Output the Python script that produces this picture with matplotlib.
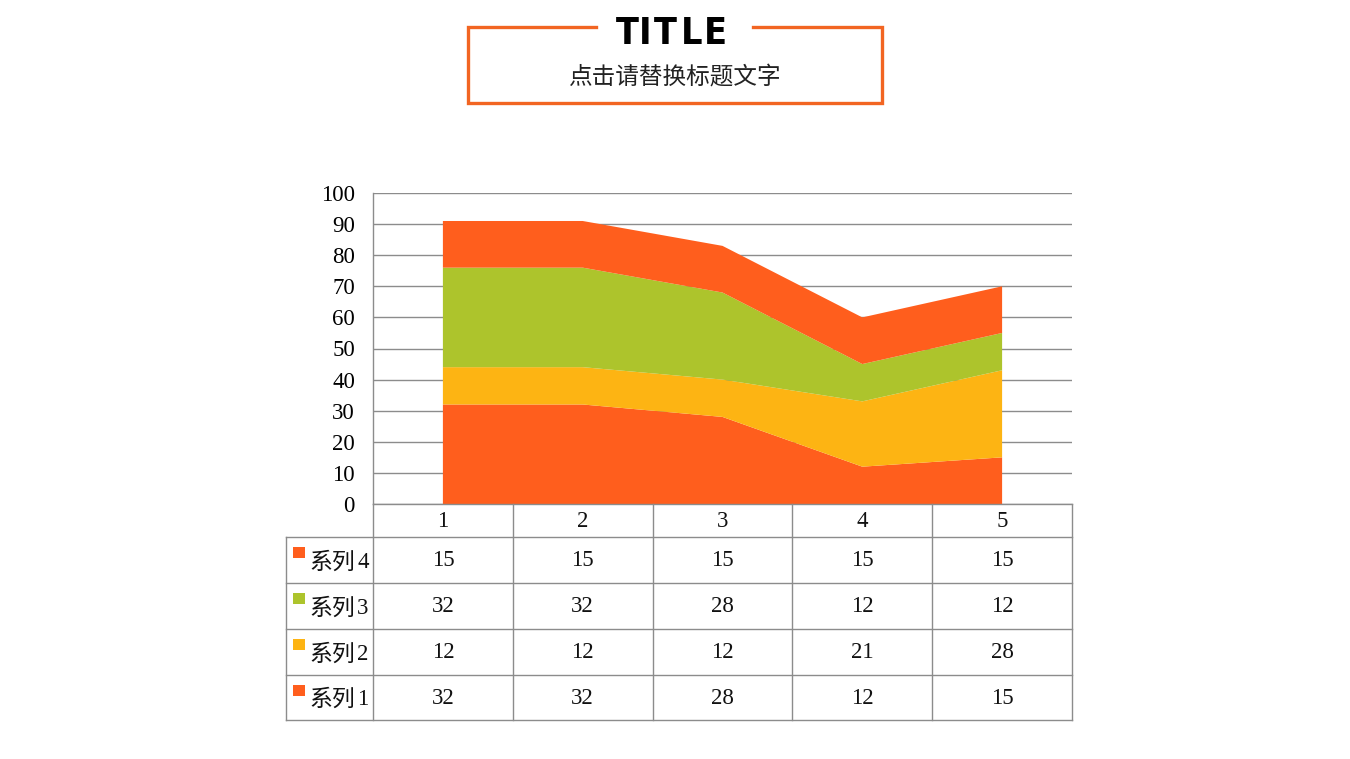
import matplotlib
matplotlib.use("Agg")
import matplotlib.pyplot as plt
from matplotlib.lines import Line2D
from matplotlib.patches import Rectangle
import numpy as np

categories = [1, 2, 3, 4, 5]
series_names = ["系列1", "系列2", "系列3", "系列4"]
s1 = [32, 32, 28, 12, 15]
s2 = [12, 12, 12, 21, 28]
s3 = [32, 32, 28, 12, 12]
s4 = [15, 15, 15, 15, 15]
yticks = [0, 10, 20, 30, 40, 50, 60, 70, 80, 90, 100]
colors = ["#FF5E1D", "#FDB413", "#ADC42C", "#FF5E1D"]
title_text = "TITLE"
subtitle_text = "点击请替换标题文字"

W, H = 1350, 759
fig = plt.figure(figsize=(W / 100, H / 100), dpi=100)
fig.patch.set_facecolor("white")

NUMFS = 16.5

# main plot axes (pixel geometry)
L, R, T, B = 373, 1072, 193, 504
ax = fig.add_axes([L / W, 1 - B / H, (R - L) / W, (B - T) / H])
ax.stackplot(categories, s1, s2, s3, s4, colors=colors, linewidth=0)
ax.set_xlim(0.5, 5.5)
ax.set_ylim(0, 100)
ax.set_yticks(yticks)
ax.set_yticklabels([str(v) for v in yticks], family="Liberation Serif", fontsize=NUMFS)
ax.tick_params(axis="y", length=0, pad=13)
ax.set_xticks([])
ax.yaxis.grid(True, color="#8c8c8c", linewidth=1)
ax.set_axisbelow(True)
for s in ["top", "right", "bottom"]:
    ax.spines[s].set_visible(False)
ax.spines["left"].set_color("#8c8c8c")
ax.spines["left"].set_linewidth(1)
ax.patch.set_alpha(0)

# overlay axes in pixel coordinates for table and title
ov = fig.add_axes([0, 0, 1, 1], zorder=5)
ov.set_xlim(0, W)
ov.set_ylim(H, 0)
ov.axis("off")
ov.patch.set_alpha(0)

fig.canvas.draw()
def data_x_to_px(x):
    disp = ax.transData.transform((x, 0))
    return disp[0] * W / fig.bbox.width

centers = [data_x_to_px(c) for c in categories]
bounds = [data_x_to_px(c - 0.5) for c in categories] + [data_x_to_px(categories[-1] + 0.5)]

gc = "#8c8c8c"
lw = 1
row_y = [504, 537, 583, 629, 675, 720]
label_left = 286

def hline(y, x0, x1):
    ov.add_line(Line2D([x0, x1], [y, y], color=gc, lw=lw))

def vline(x, y0, y1):
    ov.add_line(Line2D([x, x], [y0, y1], color=gc, lw=lw))

hline(row_y[0], bounds[0], bounds[-1])
for y in row_y[1:]:
    hline(y, label_left, bounds[-1])
for x in bounds:
    vline(x, row_y[0], row_y[-1])
vline(label_left, row_y[1], row_y[-1])

for cx, c in zip(centers, categories):
    ov.text(cx, (row_y[0] + row_y[1]) / 2 + 1, str(c), ha="center", va="center",
            family="Liberation Serif", fontsize=NUMFS, color="#111111")

data_rows = [s4, s3, s2, s1]
row_names = [series_names[3], series_names[2], series_names[1], series_names[0]]
row_colors = [colors[3], colors[2], colors[1], colors[0]]
for i, (vals, name, col) in enumerate(zip(data_rows, row_names, row_colors)):
    y0, y1 = row_y[i + 1], row_y[i + 2]
    yc = (y0 + y1) / 2
    for cx, v in zip(centers, vals):
        ov.text(cx, yc + 1, str(v), ha="center", va="center",
                family="Liberation Serif", fontsize=NUMFS, color="#111111")
    ov.add_patch(Rectangle((293, y0 + 10), 12, 11, color=col, lw=0))
    ov.text(309, yc + 2, name[:2], ha="left", va="center",
            family="Noto Sans CJK SC", fontsize=16.5, color="#111111")
    ov.text(357, yc + 2, name[2:], ha="left", va="center",
            family="Liberation Serif", fontsize=NUMFS, color="#111111")

# title box
oc = "#F26522"
blw = 2.4
ov.add_line(Line2D([596, 468, 468, 882, 882, 753], [27, 27, 103, 103, 27, 27],
                   color=oc, lw=blw, solid_joinstyle="miter"))
letter_x = [627, 645, 665, 692, 715]
for ch, lx in zip(title_text, letter_x):
    ov.text(lx, 34, ch, ha="center", va="center", family="DejaVu Sans",
            fontweight="bold", fontstretch="condensed", fontsize=27, color="black")
ov.text(675, 77, subtitle_text, ha="center", va="center", family="Noto Sans CJK SC",
        fontsize=17, color="#222222")

fig.savefig("out.png", dpi=100, facecolor="white")
